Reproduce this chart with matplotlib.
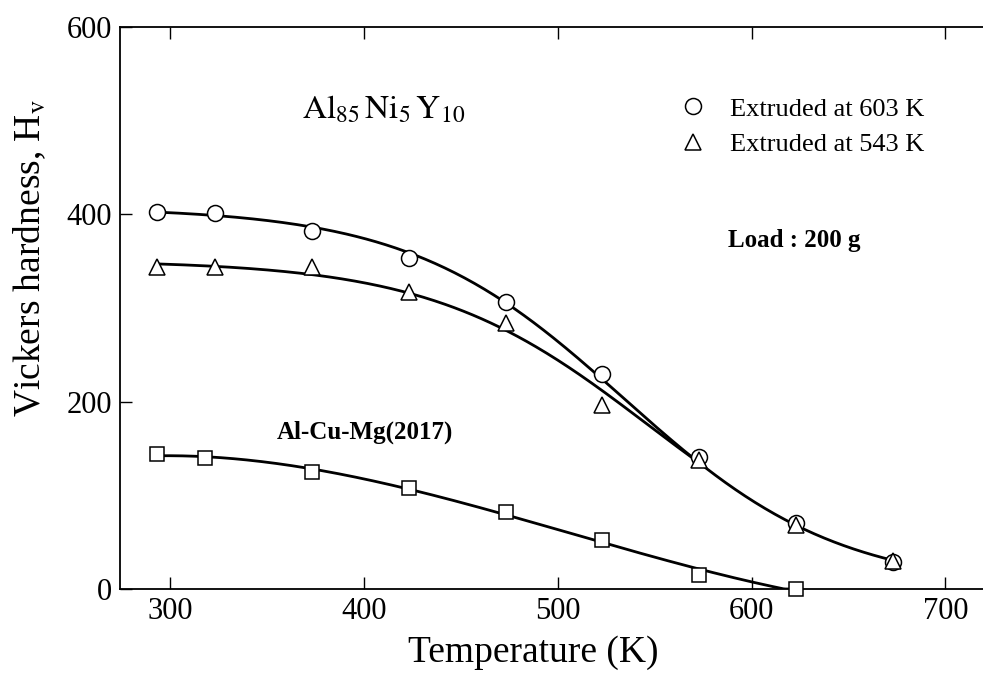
import numpy as np
import matplotlib
matplotlib.use("Agg")
import matplotlib.pyplot as plt
from matplotlib.lines import Line2D

# values (Vickers hardness vs temperature)
temps_603 = [293, 323, 373, 423, 473, 523, 573, 623, 673]
hv_603 = [402, 401, 382, 353, 306, 230, 141, 70, 29]

temps_543 = [293, 323, 373, 423, 473, 523, 573, 623, 673]
hv_543 = [344, 344, 344, 317, 284, 196, 138, 68, 30]

temps_2017 = [293, 318, 373, 423, 473, 523, 573, 623]
hv_2017 = [144, 140, 125, 108, 82, 52, 15, 0]

x_ticks = [300, 400, 500, 600, 700]
y_ticks = [0, 200, 400, 600]

plt.rcParams['font.family'] = ['Liberation Serif', 'DejaVu Serif']
plt.rcParams['mathtext.fontset'] = 'stix'


def logistic_fit(x, y):
    # y = A / (1 + exp((x - x0) / w)), fitted with a grid over A
    x = np.asarray(x, float)
    y = np.asarray(y, float)
    best = None
    for A in np.linspace(max(y) * 1.001, max(y) * 1.1, 200):
        z = np.log(A / y - 1)
        k, b = np.polyfit(x, z, 1)
        pred = A / (1 + np.exp(k * x + b))
        err = np.sum((pred - y) ** 2)
        if best is None or err < best[0]:
            best = (err, A, k, b)
    _, A, k, b = best
    return lambda t: A / (1 + np.exp(k * t + b))


fig = plt.figure(figsize=(9.83, 6.76), dpi=100)
ax = fig.add_axes([120 / 983, 87 / 676, 868 / 983, 562 / 676])

f603 = logistic_fit(temps_603, hv_603)
f543 = logistic_fit(temps_543, hv_543)
p2017 = np.poly1d(np.polyfit(temps_2017, hv_2017, 3))

t1 = np.linspace(temps_603[0], temps_603[-1], 300)
t2 = np.linspace(temps_543[0], 573, 300)
t3 = np.linspace(temps_2017[0], temps_2017[-1], 300)

ax.plot(t1, f603(t1), color='black', lw=2.0, zorder=2)
ax.plot(t2, f543(t2), color='black', lw=2.0, zorder=2)
ax.plot(t3, np.clip(p2017(t3), 0, None), color='black', lw=2.0, zorder=2)

mk = dict(ls='none', mfc='white', mec='black', mew=1.1, zorder=3, clip_on=False)
ax.plot(temps_603, hv_603, marker='o', ms=11.5, **mk)
ax.plot(temps_543, hv_543, marker='^', ms=11, **mk)
ax.plot(temps_2017, hv_2017, marker='s', ms=10.5, **mk)

handles = [Line2D([], [], marker='o', ms=11.5, **mk),
           Line2D([], [], marker='^', ms=11, **mk)]
leg = ax.legend(handles, ['Extruded at 603 K', 'Extruded at 543 K'],
                loc='upper left', bbox_to_anchor=(0.645, 0.875),
                frameon=False, fontsize=19, handlelength=1.0,
                handletextpad=0.9, labelspacing=0.45,
                borderpad=0, borderaxespad=0)

ax.text(368, 502, r'$\mathrm{Al}_{85}\,\mathrm{Ni}_{5}\,\mathrm{Y}_{10}$',
        fontsize=24, ha='left', va='baseline')
ax.text(588, 365, 'Load : 200 g', fontsize=18, fontweight='bold',
        ha='left', va='baseline')
ax.text(355, 161, 'Al-Cu-Mg(2017)', fontsize=18, fontweight='bold',
        ha='left', va='baseline')

ax.set_xlim(274, 722)
ax.set_ylim(0, 600)
ax.set_xticks(x_ticks)
ax.set_yticks(y_ticks)
ax.tick_params(direction='in', length=8.5, width=1.0, labelsize=22,
               top=True, right=False, pad=6)
for s in ax.spines.values():
    s.set_linewidth(1.3)

fig.text(533 / 983, 14 / 676, 'Temperature (K)', fontsize=27,
         ha='center', va='baseline')
fig.text(30 / 983, 0.618, r'Vickers hardness, H$_{\mathrm{v}}$', fontsize=27,
         rotation=90, ha='center', va='center')

fig.savefig('out.png', dpi=100)
